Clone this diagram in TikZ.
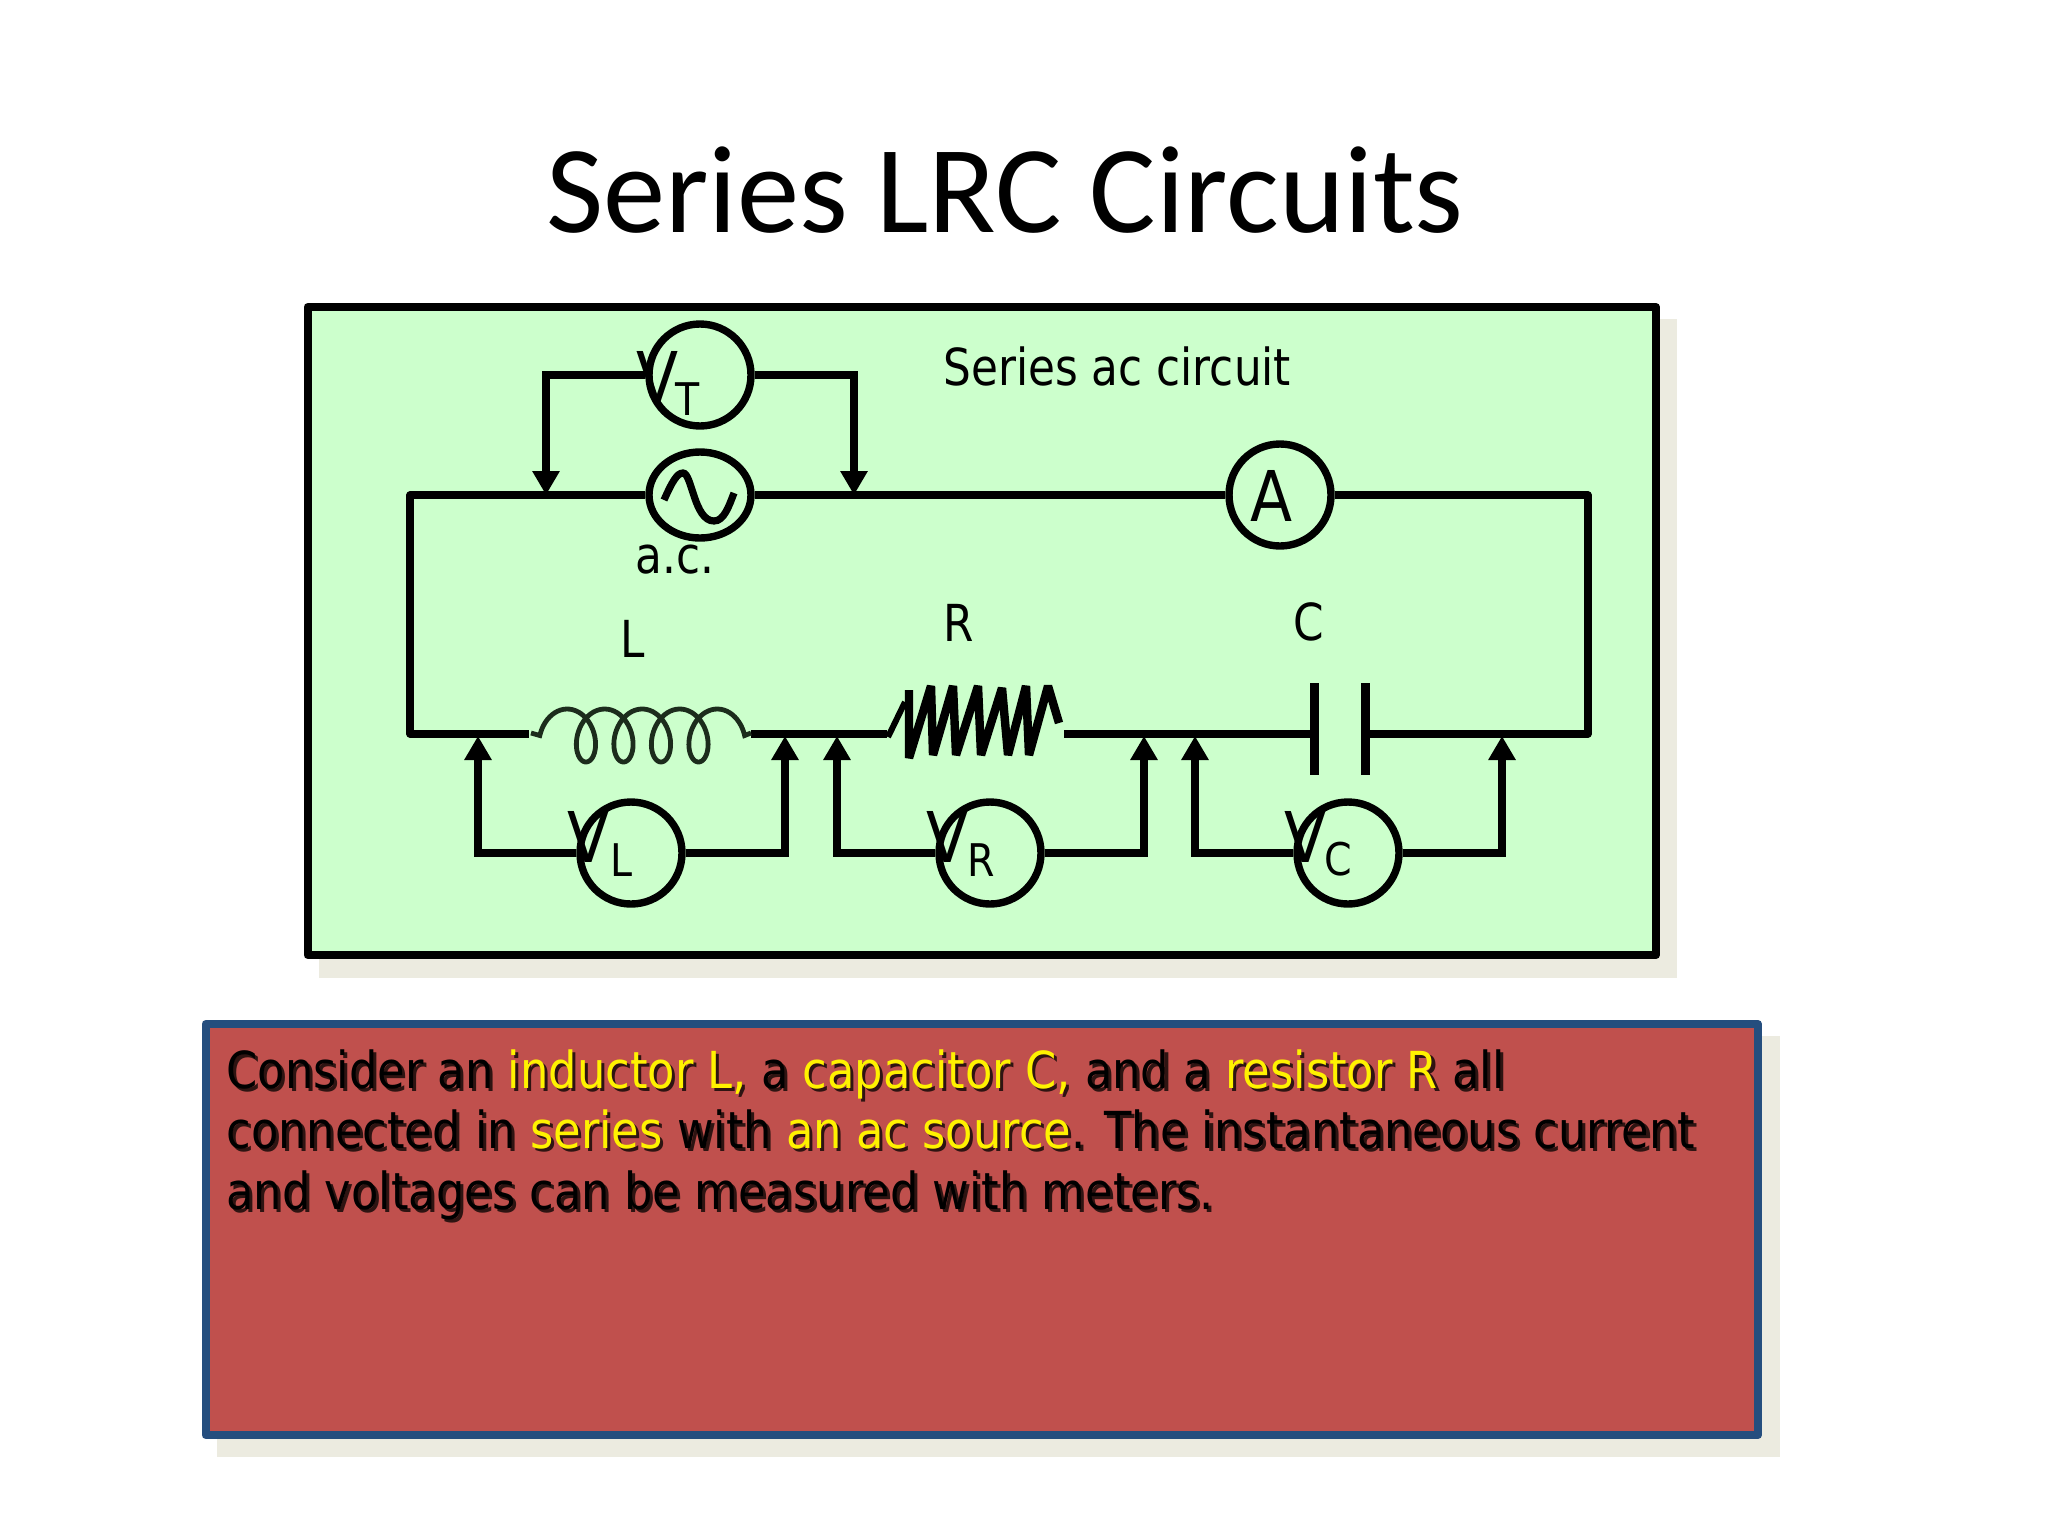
\documentclass[tikz,border=0pt]{standalone}
\usepackage{fontspec}
\usetikzlibrary{arrows.meta,shapes.geometric}
\setmainfont{Carlito}
\newfontfamily\tah[FakeStretch=0.878]{DejaVu Sans}
\newfontfamily\tahl[FakeStretch=0.858]{DejaVu Sans}
\definecolor{boxgreen}{HTML}{CCFFCC}
\definecolor{tan}{HTML}{ECEBE0}
\definecolor{boxred}{HTML}{C0504D}
\definecolor{boxblue}{HTML}{254E7E}
\definecolor{txtshadow}{HTML}{2E1412}
\definecolor{coilc}{HTML}{1C2C1C}
\newcommand\yy[1]{\textcolor{yellow}{#1}}
\newcommand\shadowed[1]{\leavevmode\rlap{\kern1.5pt\raisebox{-1.5pt}{\def\yy##1{##1}\color{txtshadow}#1}}#1}
\newcommand\tfs[1]{\tah\fontsize{#1}{#1}\selectfont}
\newcommand\tfl[1]{\tahl\fontsize{#1}{#1}\selectfont}
\tikzset{
  wire/.style={line width=3.6pt},
  probe/.style={line width=3.6pt,-{Triangle[length=12pt,width=13pt]}},
  meter/.style={draw,circle,line width=3.7pt,inner sep=0pt,minimum size=51pt},
  source/.style={draw,ellipse,line width=3.7pt,inner sep=0pt,minimum width=51pt,minimum height=43pt},
  lbl/.style={anchor=base west,inner sep=0pt,font=\tfl{25.5pt}},
  big/.style={anchor=base west,inner sep=0pt,font=\tfs{35pt}},
  subl/.style={anchor=base west,inner sep=0pt,font=\tfs{22.5pt}},
  para/.style={anchor=base west,inner sep=0pt,font=\tfs{25.5pt}},
}
\begin{document}
\begin{tikzpicture}[x=0.5pt,y=-0.5pt]
\useasboundingbox (0,0) rectangle (2048,1536);
\fill[white] (0,0) rectangle (2048,1536);
% title
\node[anchor=base,inner sep=0pt,font=\fontsize{62.3pt}{62.3pt}\selectfont] (title) at (1005,232) {Series LRC Circuits};
% green panel
\fill[tan] (319,319) rectangle (1677,978);
\draw[fill=boxgreen,line width=4pt,line join=round] (307.5,307) rectangle (1656,955);
% meters
\node[meter] (VT) at (700,375) {};
\node[source] (ac) at (700,495) {};
\node[meter] (A) at (1280,495) {};
\node[meter] (VL) at (631,853) {};
\node[meter] (VR) at (990,853) {};
\node[meter] (VC) at (1348,853) {};
% named junctions
\coordinate (tl) at (410,495);
\coordinate (tr) at (1588,495);
\coordinate (bl) at (410,734);
\coordinate (br) at (1588,734);
\coordinate (coilA) at (529,734);
\coordinate (coilB) at (751,734);
\coordinate (resA) at (887,734);
\coordinate (resB) at (1064,734);
\coordinate (capA) at (1314.5,734);
\coordinate (capB) at (1365.5,734);
\coordinate (pt1) at (546,375);
\coordinate (pt2) at (854,375);
\coordinate (pa1) at (546,495);
\coordinate (pa2) at (854,495);
\coordinate (pl1) at (478,853);
\coordinate (pl2) at (785,853);
\coordinate (ql1) at (478,736);
\coordinate (ql2) at (785,736);
\coordinate (pr1) at (837,853);
\coordinate (pr2) at (1144,853);
\coordinate (qr1) at (837,736);
\coordinate (qr2) at (1144,736);
\coordinate (pc1) at (1195,853);
\coordinate (pc2) at (1502,853);
\coordinate (qc1) at (1195,736);
\coordinate (qc2) at (1502,736);
% main loop
\draw[wire,line join=round] (ac.west) -- (tl) -- (bl) -- (coilA);
\draw[wire] (ac.east) -- (A.west);
\draw[wire,line join=round] (A.east) -- (tr) -- (br) -- (capB);
\draw[wire] (coilB) -- (resA);
\draw[wire] (resB) -- (capA);
% probes
\draw[probe] (VT.west) -- (pt1) -- (pa1);
\draw[probe] (VT.east) -- (pt2) -- (pa2);
\draw[probe] (VL.west) -- (pl1) -- (ql1);
\draw[probe] (VL.east) -- (pl2) -- (ql2);
\draw[probe] (VR.west) -- (pr1) -- (qr1);
\draw[probe] (VR.east) -- (pr2) -- (qr2);
\draw[probe] (VC.west) -- (pc1) -- (qc1);
\draw[probe] (VC.east) -- (pc2) -- (qc2);
% capacitor
\draw[line width=4.5pt] (1314.5,683) -- (1314.5,775);
\draw[line width=4.5pt] (1365.5,683) -- (1365.5,775);
% inductor
\draw[coilc,line width=2.4pt] (531,733) -- plot[domain=-90:1530,samples=220,smooth] ({567.2+0.1042*\x+18*sin(\x)},{735.5-26.5*cos(\x)}) -- (751,733);
% resistor
\draw[line width=3pt] (888,737) -- (905,702);
\draw[line width=4.2pt,line join=bevel] (909,690) -- (909,758) -- (931,686) -- (933,755) -- (953,686) -- (956,755) -- (978,686) -- (981,755) -- (1002,688) -- (1008,755) -- (1026,686) -- (1029,755) -- (1048,686) -- (1059,723);
% sine
\draw[line width=3.6pt] (664,500) .. controls (672,482) and (677,473) .. (683,473) .. controls (692,473) and (694,521) .. (714,521) .. controls (724,521) and (729,506) .. (734,493);
% labels
\node[lbl] (t1) at (943,385.5) {Series ac circuit};
\node[lbl] (t2) at (635,573) {a.c.};
\node[lbl] (t3) at (620,657) {L};
\node[lbl] (t4) at (943,641) {R};
\node[lbl] (t5) at (1293,640) {C};
\node[big] (t6) at (1250,521) {A};
\node[big] (t7) at (636,402) {V};
\node[subl] (t8) at (675,415) {T};
\node[big] (t9) at (567,862) {V};
\node[subl] (t10) at (610,876) {L};
\node[big] (t11) at (926,862) {V};
\node[subl] (t12) at (967,876) {R};
\node[big] (t13) at (1284,862) {V};
\node[subl] (t14) at (1324,875) {C};
% red panel
\fill[tan] (217,1036) rectangle (1780,1457);
\draw[fill=boxred,draw=boxblue,line width=4pt,line join=round] (205.5,1024) rectangle (1758,1435);
\node[para] (p1) at (226,1088) {\shadowed{Consider an \yy{inductor L,} a \yy{capacitor C,} and a \yy{resistor R} all}};
\node[para] (p2) at (226,1148) {\shadowed{connected in \yy{series} with \yy{an ac source}. The instantaneous current}};
\node[para] (p3) at (226,1209) {\shadowed{and voltages can be measured with meters.}};
\end{tikzpicture}
\end{document}
